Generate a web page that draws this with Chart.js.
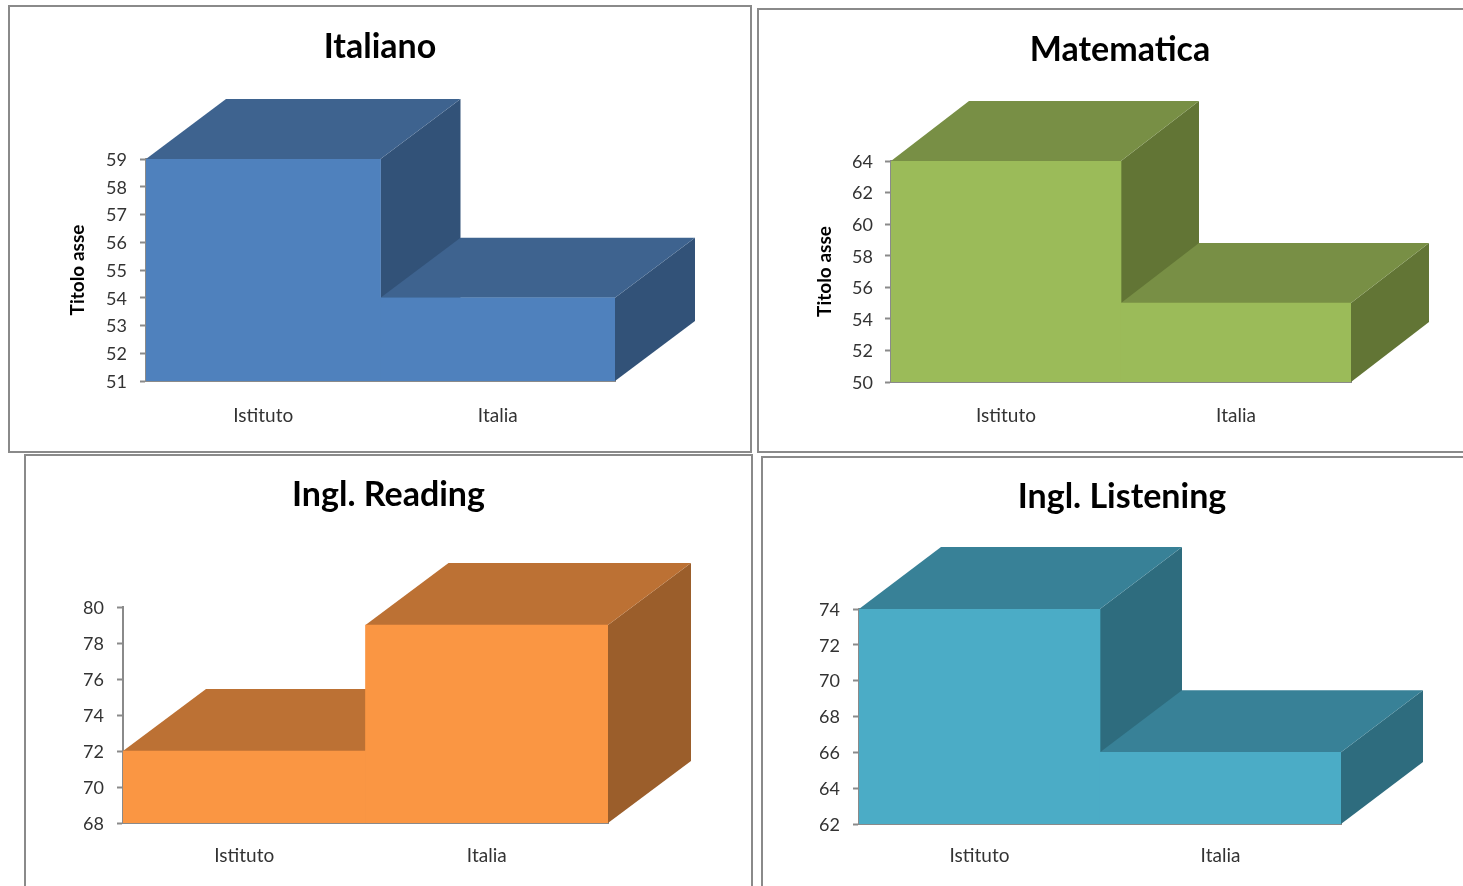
<!DOCTYPE html>
<html>
<head>
<meta charset="utf-8">
<script src="https://cdn.jsdelivr.net/npm/chart.js@4"></script>
<style>
html,body{margin:0;padding:0;background:#fff;width:1463px;height:886px;overflow:hidden}
.panel{position:absolute;box-sizing:border-box;border:2px solid #8a8a8a;background:#fff}
canvas{position:absolute;display:block}
</style>
</head>
<body>
<script>
const categories = ['Istituto', 'Italia'];
const italianoValues = [59, 54];
const matematicaValues = [64, 55];
const readingValues = [72, 79];
const listeningValues = [74, 66];
const italianoAxis = [51, 59, 1];
const matematicaAxis = [50, 64, 2];
const readingAxis = [68, 80, 2];
const listeningAxis = [62, 74, 2];
const axisTitle = 'Titolo asse';

const panels = [
  {title:'Italiano', values:italianoValues, axis:italianoAxis, yTitle:true,
   box:[8,5,744,448], plot:[146,159,615,381], depth:[80,60], titleY:30, titleX:78, catPad:15, tickPad:13,
   front:'#4F81BD', top:'#3E638F', side:'#325278'},
  {title:'Matematica', values:matematicaValues, axis:matematicaAxis, yTitle:true,
   box:[757,8,726,445], plot:[891,161,1351,382], depth:[78,60], titleY:33, titleX:825, catPad:14, tickPad:12,
   front:'#9BBB59', top:'#788F45', side:'#627535'},
  {title:'Ingl. Reading', values:readingValues, axis:readingAxis, yTitle:false,
   box:[24,454,729,460], plot:[123,607,608,823], depth:[83,62], titleY:478, titleX:0, catPad:13, tickPad:13,
   front:'#FA9643', top:'#BC7134', side:'#9B5E2B'},
  {title:'Ingl. Listening', values:listeningValues, axis:listeningAxis, yTitle:false,
   box:[761,456,722,460], plot:[859,609,1341,824], depth:[82,62], titleY:480, titleX:0, catPad:12, tickPad:13,
   front:'#4BACC6', top:'#388197', side:'#2E6C7E'}
];

const FONT = 'Lato, "Open Sans", sans-serif';
const TITLE_SIZE = 34;
const AXIS_GRAY = '#8a8a8a';

const extrude = {
  id:'extrude',
  afterLayout(chart, args, opts){
    const t = chart.titleBlock;
    t.left = 0; t.right = chart.width;
    t.top = opts.titleTop; t.bottom = opts.titleTop + t.height;
  },
  beforeDatasetsDraw(chart, args, opts){
    const {ctx} = chart;
    const [dx, dy] = opts.depth;
    const floor = chart.scales.y.getPixelForValue(chart.scales.y.min);
    chart.getDatasetMeta(0).data.forEach(bar => {
      const {x, y, width} = bar.getProps(['x','y','width'], true);
      const l = x - width/2, r = x + width/2;
      ctx.save();
      ctx.fillStyle = opts.side;
      ctx.beginPath();
      ctx.moveTo(r, y); ctx.lineTo(r+dx, y-dy); ctx.lineTo(r+dx, floor-dy); ctx.lineTo(r, floor);
      ctx.closePath(); ctx.fill();
      ctx.fillStyle = opts.top;
      ctx.beginPath();
      ctx.moveTo(l, y); ctx.lineTo(l+dx, y-dy); ctx.lineTo(r+dx, y-dy); ctx.lineTo(r, y);
      ctx.closePath(); ctx.fill();
      ctx.restore();
    });
  }
};

panels.forEach(p => {
  const [bx, by, bw, bh] = p.box;
  const [pl, pt, pr, pb] = p.plot;
  const div = document.createElement('div');
  div.className = 'panel';
  div.style.cssText = `left:${bx}px;top:${by}px;width:${bw}px;height:${bh}px`;
  document.body.appendChild(div);
  const c = document.createElement('canvas');
  c.width = bw; c.height = bh;
  c.style.left = bx + 'px'; c.style.top = by + 'px';
  c.style.width = bw + 'px'; c.style.height = bh + 'px';
  document.body.appendChild(c);

  new Chart(c, {
    type:'bar',
    data:{labels:categories, datasets:[{data:p.values, backgroundColor:p.front, borderWidth:0,
      barPercentage:1, categoryPercentage:1}]},
    plugins:[extrude],
    options:{
      responsive:false, animation:false, devicePixelRatio:1,
      layout:{padding:{left:0, top:pt-by-TITLE_SIZE, right:bx+bw-pr, bottom:0}},
      plugins:{
        legend:{display:false}, tooltip:{enabled:false},
        title:{display:true, text:p.title, color:'#000', padding:0,
          font:{family:FONT, size:TITLE_SIZE, weight:'bold', lineHeight:1}},
        extrude:{depth:p.depth, top:p.top, side:p.side, titleTop:p.titleY-by}
      },
      scales:{
        x:{
          grid:{display:false},
          border:{display:true, color:AXIS_GRAY, width:2},
          ticks:{color:'#333', padding:p.catPad, maxRotation:0, font:{family:FONT, size:19}},
          afterFit(s){ s.height = by+bh-pb; }
        },
        y:{
          min:p.axis[0], max:p.axis[1],
          grid:{drawOnChartArea:false, drawTicks:true, tickLength:6, color:AXIS_GRAY, tickWidth:2},
          border:{display:true, color:AXIS_GRAY, width:2},
          ticks:{stepSize:p.axis[2], autoSkip:false, color:'#333', padding:p.tickPad, labelOffset:1, font:{family:FONT, size:18}},
          title:{display:p.yTitle, text:axisTitle, color:'#000',
            padding:{top:Math.max(0,p.titleX-bx-10), bottom:0},
            font:{family:FONT, size:19, weight:'bold', lineHeight:1}},
          afterFit(s){ s.width = pl-bx; }
        }
      }
    }
  });
});
</script>
</body>
</html>
